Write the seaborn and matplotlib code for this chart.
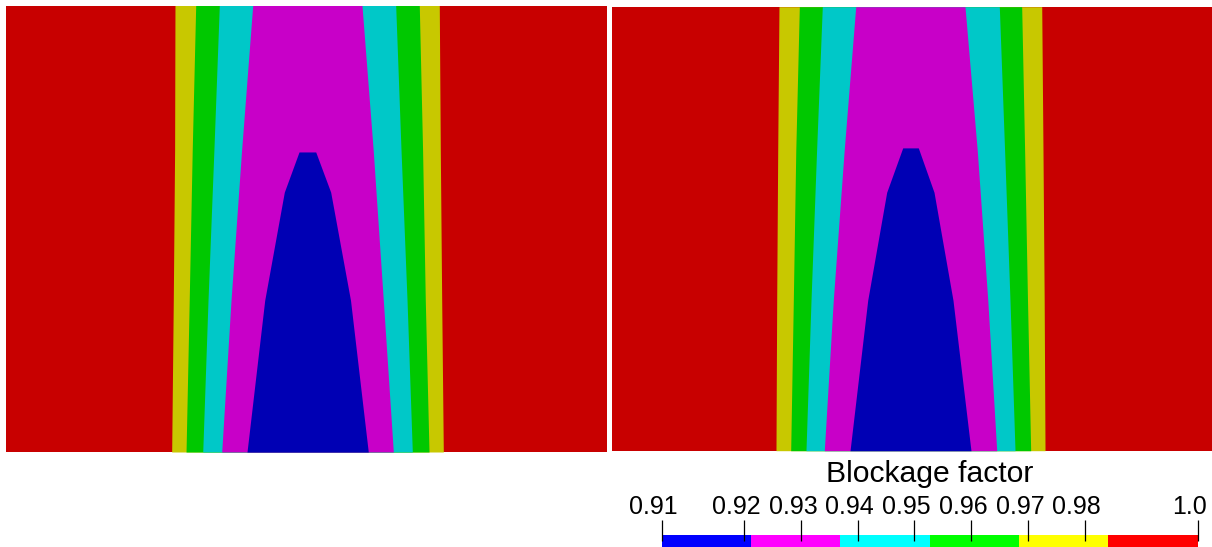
import matplotlib
matplotlib.use("Agg")
import matplotlib.pyplot as plt
from matplotlib import transforms
import seaborn as sns

# Blockage-factor colour levels (6 discrete bands between data min and max)
levels = [0.9054, 0.9212, 0.9369, 0.9527, 0.9685, 0.9842, 1.0]
tick_values = [0.9054, 0.92, 0.93, 0.94, 0.95, 0.96, 0.97, 0.98, 1.0]
tick_labels = ["0.91", "0.92", "0.93", "0.94", "0.95", "0.96", "0.97", "0.98", "1.0"]
bar_title = "Blockage factor"

# Case A: contour edges (normalised x) at normalised heights a_y
a_y = [1.0, 0.676, 0.340, 0.0]
a_left_984 = [0.2813, 0.2807, 0.2785, 0.2758]
a_right_984 = [0.7213, 0.7230, 0.7253, 0.7280]
a_left_969 = [0.3158, 0.3100, 0.3050, 0.2997]
a_right_969 = [0.6880, 0.6935, 0.6980, 0.7042]
a_left_953 = [0.3551, 0.3461, 0.3363, 0.3275]
a_right_953 = [0.6487, 0.6576, 0.6676, 0.6764]
a_left_937 = [0.4107, 0.3922, 0.3746, 0.3591]
a_right_937 = [0.5926, 0.6113, 0.6281, 0.6448]
a_core_y = [0.672, 0.582, 0.340, 0.0]
a_left_921 = [0.4878, 0.4633, 0.4307, 0.4012]
a_right_921 = [0.5156, 0.5405, 0.5735, 0.6031]

# Case B
b_y = [1.0, 0.677, 0.339, 0.0]
b_left_984 = [0.2783, 0.2762, 0.2745, 0.2733]
b_right_984 = [0.7162, 0.7183, 0.7203, 0.7217]
b_left_969 = [0.3122, 0.3063, 0.3022, 0.2978]
b_right_969 = [0.6828, 0.6877, 0.6925, 0.6978]
b_left_953 = [0.3505, 0.3410, 0.3317, 0.3233]
b_right_953 = [0.6455, 0.6543, 0.6633, 0.6717]
b_left_937 = [0.4062, 0.3870, 0.3688, 0.3538]
b_right_937 = [0.5883, 0.6087, 0.6263, 0.6412]
b_core_y = [0.682, 0.582, 0.339, 0.0]
b_left_921 = [0.4845, 0.4578, 0.4262, 0.3967]
b_right_921 = [0.5105, 0.5367, 0.5683, 0.5983]

sns.set_theme(style="white")
plt.rcParams["font.family"] = ["Liberation Sans", "DejaVu Sans"]

# shaded (lit) colours on the surface, full colours on the bar
surface_colors = sns.color_palette(["#0000b4", "#c800c8", "#00c8c8", "#00c800", "#c8c800", "#c80000"])
bar_colors = sns.color_palette(["#0000ff", "#ff00ff", "#00ffff", "#00ff00", "#ffff00", "#ff0000"])

W, H = 1212, 547
fig = plt.figure(figsize=(W / 100, H / 100), dpi=100)
fig.patch.set_facecolor("white")


def draw_case(rect, y, edges, core_y, core_edges):
    ax = fig.add_axes(rect)
    ax.set_xlim(0, 1)
    ax.set_ylim(0, 1)
    ax.set_axis_off()
    ax.axvspan(0, 1, color=surface_colors[5], lw=0)
    # nested regions: each one lies inside the previous contour
    for k, (lo, hi) in enumerate(edges):
        ax.fill_betweenx(y, lo, hi, color=surface_colors[4 - k], lw=0, antialiased=True)
    ax.fill_betweenx(core_y, core_edges[0], core_edges[1], color=surface_colors[0], lw=0)
    return ax


draw_case([6 / W, 95 / H, 600.7 / W, 446.5 / H], a_y,
          [(a_left_984, a_right_984), (a_left_969, a_right_969),
           (a_left_953, a_right_953), (a_left_937, a_right_937)],
          a_core_y, (a_left_921, a_right_921))

draw_case([612 / W, 96.3 / H, 600 / W, 444 / H], b_y,
          [(b_left_984, b_right_984), (b_left_969, b_right_969),
           (b_left_953, b_right_953), (b_left_937, b_right_937)],
          b_core_y, (b_left_921, b_right_921))

# colour bar
cax = fig.add_axes([661.5 / W, 0, 536.5 / W, 12 / H])
cax.set_xlim(levels[0], levels[-1])
cax.set_ylim(0, 1)
cax.set_axis_off()
for i in range(len(levels) - 1):
    cax.axvspan(levels[i], levels[i + 1], color=bar_colors[i], lw=0)

xt = cax.get_xaxis_transform()
cax.vlines(tick_values, 0.5, 2.25, transform=xt, color="black", lw=0.9, clip_on=False)
label_tr = transforms.offset_copy(xt, fig=fig, x=-8, y=0, units="dots")
for v, s in zip(tick_values, tick_labels):
    cax.text(v, 2.75, s, transform=label_tr, ha="center", va="baseline",
             fontsize=18, color="black")

fig.text(929.75 / W, (H - 482) / H, bar_title, ha="center", va="baseline",
         fontsize=21.7, color="black")

fig.savefig("out.png", dpi=100, facecolor="white")
